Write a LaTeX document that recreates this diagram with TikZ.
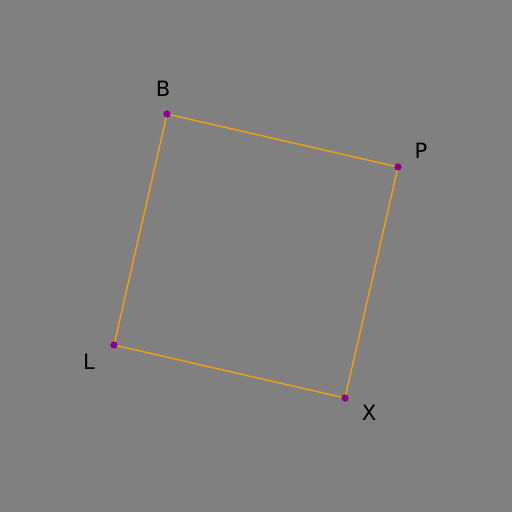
\documentclass[tikz,border=0pt]{standalone}
\usepackage{fontspec}
\setmainfont{DejaVu Sans}
\usepackage{xcolor}
\usetikzlibrary{positioning}

\definecolor{bggray}{RGB}{128,128,128}
\definecolor{edgeorange}{RGB}{240,160,20}
\definecolor{dotpurple}{RGB}{140,0,140}

\begin{document}
\begin{tikzpicture}[
		    vertex/.style={circle, fill=dotpurple, inner sep=0pt, minimum size=0.14cm},
		    edge/.style={draw=edgeorange, line width=0.8pt},
		    lbl/.style={font=\fontsize{12}{14}\selectfont, text=black},
		]
		    % Background
		    \fill [bggray] (0,0) rectangle (10.24,10.24);
		    \useasboundingbox (0,0) rectangle (10.24,10.24);
		    
		    % Corners
		    \node [vertex] (b) at (3.34,7.96) {};
		    \node [vertex] (p) at (7.96,6.90) {};
		    \node [vertex] (x) at (6.90,2.28) {};
		    \node [vertex] (l) at (2.28,3.34) {};
		    
		    % Sides
		    \draw [edge] (b.center) -- (p.center) -- (x.center) -- (l.center) -- cycle;
		    
		    % Redraw corners on top
		    \foreach \v in {b,p,x,l}
		        \fill [dotpurple] (\v) circle (0.07cm);
		    
		    % Corner labels
		    \node [lbl] (blbl) at (3.26,8.46) {B};
		    \node [lbl] (plbl) at (8.42,7.22) {P};
		    \node [lbl] (xlbl) at (7.38,1.98) {X};
		    \node [lbl] (llbl) at (1.78,3.00) {L};
		\end{tikzpicture}
\end{document}
